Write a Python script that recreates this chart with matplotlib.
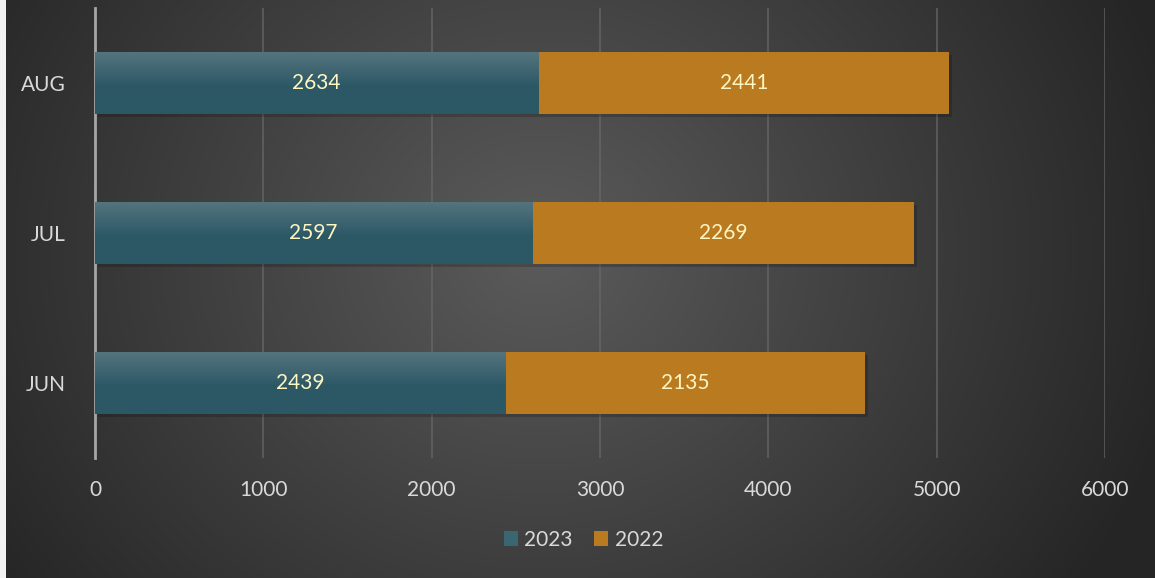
import numpy as np
import matplotlib
matplotlib.use("Agg")
import matplotlib.pyplot as plt
from matplotlib import patheffects as pe

months = ["JUN", "JUL", "AUG"]
values_2023 = [2439, 2597, 2634]
values_2022 = [2135, 2269, 2441]
series_names = ["2023", "2022"]
x_ticks = [0, 1000, 2000, 3000, 4000, 5000, 6000]

plt.rcParams['font.family'] = ['Lato', 'DejaVu Sans']

W, H = 1155, 578
fig = plt.figure(figsize=(W / 100, H / 100), dpi=100)

# background radial gradient
bg = fig.add_axes([0, 0, 1, 1], zorder=-10)
yy, xx = np.mgrid[0:H, 0:W]
cx, cy = 540, 250
r = np.sqrt(((xx - cx) / 1.0) ** 2 + ((yy - cy) / 0.9) ** 2)
r = np.clip(r / 660, 0, 1)
c_in = np.array([0x5b, 0x5b, 0x5b]) / 255
c_out = np.array([0x25, 0x25, 0x25]) / 255
img = c_in[None, None, :] * (1 - r[..., None]) + c_out[None, None, :] * r[..., None]
img[:, :6, :] = np.array([0xf2, 0xf2, 0xf2]) / 255
bg.imshow(img, aspect='auto', extent=[0, 1, 0, 1], origin='upper')
bg.axis('off')

ax = fig.add_axes([95 / W, (H - 458) / H, (1105 - 95) / W, 450 / H])
ax.set_facecolor('none')

y = np.arange(len(months))
h = 0.41
teal = '#2c5866'
orange = '#b97a20'
shadow = [pe.SimplePatchShadow(offset=(2, -2), shadow_rgbFace='black', alpha=0.18), pe.Normal()]

b1 = ax.barh(y, values_2023, height=h, color=teal, label=series_names[0], zorder=3,
             path_effects=shadow)
b2 = ax.barh(y, values_2022, left=values_2023, height=h, color=orange, label=series_names[1],
             zorder=3, path_effects=shadow)

# vertical gradient on teal bars
grad = np.linspace(0, 1, 100)
top_c = np.array([0x54, 0x74, 0x7e]) / 255
bot_c = np.array([0x2c, 0x58, 0x66]) / 255
t = np.clip(grad / 0.55, 0, 1)[:, None]
gimg = (top_c * (1 - t) + bot_c * t)[:, None, :]
for bar in b1:
    x0, y0 = bar.get_x(), bar.get_y()
    w, hh = bar.get_width(), bar.get_height()
    im = ax.imshow(gimg, extent=[x0, x0 + w, y0, y0 + hh], origin='upper', aspect='auto', zorder=3.5)
    im.set_clip_path(bar)

for bars, vals in ((b1, values_2023), (b2, values_2022)):
    for bar, v in zip(bars, vals):
        ax.text(bar.get_x() + bar.get_width() / 2, bar.get_y() + bar.get_height() / 2, str(v),
                ha='center', va='center', color='#fdf6c3', fontsize=15, zorder=5)

ax.set_xlim(0, 6000)
ax.set_ylim(-0.5, 2.5)
ax.set_xticks(x_ticks)
ax.set_xticklabels([str(t) for t in x_ticks])
ax.set_yticks(y)
ax.set_yticklabels(months)
ax.tick_params(axis='both', length=0, colors='#d9d9d9', labelsize=15)
ax.tick_params(axis='x', pad=16)
ax.tick_params(axis='y', pad=21)
ax.xaxis.grid(True, color='#6a6a6a', linewidth=1.3, alpha=0.7, zorder=0)
ax.set_axisbelow(True)
for s in ['top', 'right', 'bottom']:
    ax.spines[s].set_visible(False)
ax.spines['left'].set_color('#a6a6a6')
ax.spines['left'].set_linewidth(2)

leg = fig.legend(handles=[b1, b2], labels=series_names, loc='center', bbox_to_anchor=(0.505, (H - 540) / H),
                 ncol=2, frameon=False, fontsize=15, labelcolor='#d9d9d9',
                 handlelength=0.7, handleheight=0.7, handletextpad=0.3, columnspacing=1.0)
for hnd in leg.legend_handles:
    hnd.set_path_effects([])
leg.legend_handles[0].set_facecolor('#3a6672')

fig.savefig('out.png', dpi=100)
